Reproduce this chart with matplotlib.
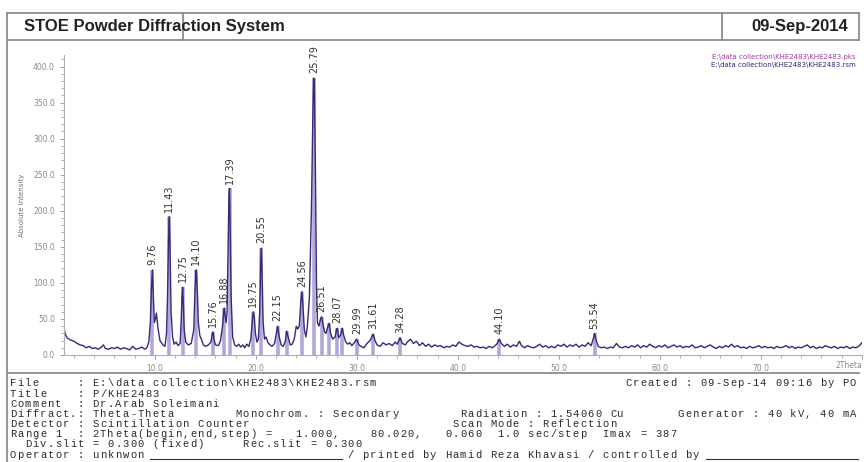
import matplotlib.pyplot as plt
import numpy as np
from matplotlib.lines import Line2D
from matplotlib.ticker import MultipleLocator, FuncFormatter

W, H = 864, 462

profile_2theta = [
    1.0, 1.1, 1.3, 1.6, 2.0, 2.3, 2.6, 2.9, 3.2, 3.5, 3.8, 4.1, 4.4, 4.7, 4.9, 5.1, 5.4, 5.7, 6.0, 6.3,
    6.6, 6.9, 7.2, 7.5, 7.8, 8.1, 8.4, 8.7, 9.0, 9.2, 9.4, 9.55, 9.65, 9.76, 9.85, 9.95, 10.05, 10.15,
    10.3, 10.5, 10.8, 11.0, 11.15, 11.25, 11.35, 11.43, 11.5, 11.6, 11.75, 11.9, 12.1, 12.3, 12.5, 12.6,
    12.68, 12.75, 12.82, 12.9, 13.05, 13.3, 13.6, 13.85, 13.95, 14.05, 14.1, 14.2, 14.3, 14.45, 14.6,
    14.8, 15.0, 15.3, 15.55, 15.7, 15.76, 15.85, 16.0, 16.3, 16.5, 16.7, 16.82, 16.88, 16.95, 17.05,
    17.15, 17.25, 17.33, 17.39, 17.45, 17.55, 17.7, 17.9, 18.1, 18.3, 18.5, 18.7, 18.9, 19.1, 19.3,
    19.5, 19.65, 19.75, 19.85, 19.95, 20.1, 20.25, 20.38, 20.48, 20.55, 20.62, 20.72, 20.85, 21.0,
    21.2, 21.4, 21.6, 21.85, 22.0, 22.15, 22.3, 22.5, 22.7, 22.9, 23.05, 23.2, 23.4, 23.6, 23.8, 24.0,
    24.15, 24.3, 24.45, 24.56, 24.65, 24.8, 24.95, 25.1, 25.3, 25.5, 25.65, 25.72, 25.79, 25.9, 26.0,
    26.1, 26.25, 26.4, 26.51, 26.65, 26.8, 26.95, 27.1, 27.25, 27.4, 27.6, 27.85, 28.0, 28.07, 28.2,
    28.4, 28.55, 28.7, 28.9, 29.1, 29.3, 29.5, 29.8, 29.99, 30.2, 30.4, 30.7, 31.0, 31.3, 31.5, 31.61,
    31.8, 32.0, 32.3, 32.6, 32.9, 33.2, 33.5, 33.8, 34.0, 34.28, 34.5, 34.8, 35.0, 35.3, 35.6, 35.9,
    36.2, 36.5, 36.8, 37.1, 37.4, 37.7, 38.0, 38.3, 38.6, 38.9, 39.2, 39.5, 39.8, 40.1, 40.4, 40.7,
    41.0, 41.3, 41.6, 41.9, 42.2, 42.5, 42.8, 43.1, 43.4, 43.7, 43.9, 44.1, 44.3, 44.6, 44.9, 45.2,
    45.5, 45.8, 46.1, 46.3, 46.6, 46.9, 47.2, 47.5, 47.8, 48.1, 48.4, 48.7, 49.0, 49.3, 49.6, 49.9,
    50.2, 50.5, 50.8, 51.1, 51.4, 51.7, 52.0, 52.3, 52.6, 52.9, 53.2, 53.4, 53.54, 53.7, 53.9, 54.2,
    54.5, 54.8, 55.1, 55.4, 55.7, 56.0, 56.3, 56.6, 56.9, 57.2, 57.5, 57.8, 58.1, 58.4, 58.7, 59.0,
    59.3, 59.6, 59.9, 60.2, 60.5, 60.8, 61.1, 61.4, 61.7, 62.0, 62.3, 62.6, 62.9, 63.2, 63.5, 63.8,
    64.1, 64.4, 64.7, 65.0, 65.3, 65.6, 65.9, 66.2, 66.5, 66.8, 67.1, 67.4, 67.7, 68.0, 68.3, 68.6,
    68.9, 69.2, 69.5, 69.8, 70.1, 70.4, 70.7, 71.0, 71.3, 71.6, 71.9, 72.2, 72.5, 72.8, 73.1, 73.4,
    73.7, 74.0, 74.3, 74.6, 74.9, 75.2, 75.5, 75.8, 76.1, 76.4, 76.7, 77.0, 77.3, 77.6, 77.9, 78.2,
    78.5, 78.8, 79.1, 79.4, 79.7, 80.02,
]
profile_counts = [
    38, 30, 24, 21, 19, 16, 14, 13, 10, 12, 9, 10, 8, 11, 14, 9, 8, 10, 9, 11,
    8, 10, 9, 7, 12, 8, 9, 11, 8, 10, 18, 45, 90, 118, 80, 45, 50, 58,
    38, 20, 14, 12, 30, 80, 160, 192, 150, 60, 25, 15, 18, 13, 16, 45,
    80, 94, 70, 35, 18, 14, 16, 35, 80, 112, 118, 90, 45, 27, 22,
    14, 12, 14, 18, 30, 32, 22, 14, 13, 20, 40, 60, 65, 55, 45,
    60, 150, 220, 231, 180, 80, 25, 14, 12, 15, 11, 14, 10, 15, 12,
    22, 48, 60, 52, 30, 18, 22, 60, 130, 148, 110, 45, 22, 25,
    17, 14, 12, 16, 28, 40, 26, 14, 12, 18, 33, 25, 14, 15, 22, 40,
    36, 40, 75, 88, 70, 35, 25, 40, 80, 200, 340, 384, 380, 250, 100,
    45, 40, 50, 53, 42, 32, 30, 38, 44, 30, 22, 25, 36, 37, 24,
    28, 37, 27, 18, 15, 17, 13, 18, 22, 14, 12, 10, 16, 20, 26, 29,
    20, 14, 12, 17, 14, 16, 13, 18, 15, 24, 16, 14, 18, 22, 16, 19,
    13, 17, 12, 15, 11, 14, 12, 13, 10, 12, 11, 14, 12, 18, 15, 13,
    12, 14, 11, 12, 10, 11, 9, 12, 10, 13, 16, 22, 16, 12, 15, 11,
    14, 12, 19, 13, 10, 13, 11, 10, 12, 15, 11, 13, 10, 12, 10, 14,
    12, 15, 11, 14, 12, 15, 11, 14, 12, 17, 13, 22, 30, 20, 12, 10,
    11, 9, 11, 10, 16, 11, 10, 12, 10, 13, 11, 14, 10, 13, 11, 15,
    12, 10, 13, 11, 14, 10, 12, 14, 11, 13, 10, 12, 11, 14, 10, 11,
    13, 10, 12, 14, 11, 9, 12, 10, 13, 11, 15, 11, 13, 10, 11, 9,
    12, 10, 11, 13, 10, 12, 10, 11, 9, 12, 10, 11, 13, 10, 12, 9,
    11, 10, 12, 14, 10, 12, 9, 11, 10, 13, 11, 10, 12, 9, 11, 10,
    12, 9, 11, 10, 12, 17,
]

# peak list (.pks)
peak_pos = [9.76, 11.43, 12.75, 14.10, 15.76, 16.88, 17.39, 19.75, 20.55, 22.15, 23.05,
            24.56, 25.79, 26.51, 27.25, 28.07, 28.55, 29.99, 31.61, 34.28, 44.10, 53.54]
peak_int = [118, 192, 94, 118, 32, 65, 231, 60, 148, 40, 33,
            88, 384, 53, 44, 37, 37, 22, 29, 24, 22, 30]
peak_labels = ["9.76", "11.43", "12.75", "14.10", "15.76", "16.88", "17.39", "19.75", "20.55",
               "22.15", "", "24.56", "25.79", "26.51", "", "28.07", "", "29.99", "31.61",
               "34.28", "44.10", "53.54"]

header_left = "STOE Powder Diffraction System"
header_right = "09-Sep-2014"
file_pks = "E:\\data collection\\KHE2483\\KHE2483.pks"
file_rsm = "E:\\data collection\\KHE2483\\KHE2483.rsm"

# info block: (column, text) pieces of each printed line
info_rows = [
    [(0, "File     : E:\\data collection\\KHE2483\\KHE2483.rsm"), (82, "Created : 09-Sep-14 09:16 by PO")],
    [(0, "Title    : P/KHE2483")],
    [(0, "Comment  : Dr.Arab Soleimani")],
    [(0, "Diffract.: Theta-Theta"), (30, "Monochrom. : Secondary"), (60, "Radiation : 1.54060 Cu"),
     (89, "Generator : 40 kV, 40 mA")],
    [(0, "Detector : Scintillation Counter"), (59, "Scan Mode : Reflection")],
    [(0, "Range 1  : 2Theta(begin,end,step) ="), (38, "1.000,"), (48, "80.020,"), (58, "0.060"),
     (65, "1.0 sec/step"), (79, "Imax = 387")],
    [(2, "Div.slit = 0.300 (fixed)"), (31, "Rec.slit = 0.300")],
    [(0, "Operator : unknwon"), (45, "/ printed by Hamid Reza Khavasi / controlled by")],
]
info_y = [383, 394, 404, 414, 424, 434, 444, 455]
CHAR_W = 7.5


def fx(x):
    return x / W


def fy(y):
    return 1 - y / H


fig = plt.figure(figsize=(W / 100, H / 100), dpi=100)
fig.patch.set_facecolor("white")

frame = "#8c8c8c"
for x0, y0, x1, y1 in [(7, 13, 859, 13), (7, 40, 859, 40), (7, 13, 7, 462), (859, 13, 859, 40),
                       (183, 13, 183, 40), (722, 13, 722, 40), (7, 373, 859, 373)]:
    fig.add_artist(Line2D([fx(x0), fx(x1)], [fy(y0), fy(y1)], color=frame, lw=1.3))

fig.text(fx(24), fy(27), header_left, fontsize=12, fontweight="bold", family="Liberation Sans",
         va="center", color="#222222")
fig.text(fx(751), fy(27), header_right, fontsize=12, fontweight="bold", family="Liberation Sans",
         va="center", color="#222222")

ax = fig.add_axes([fx(64), fy(355), (862 - 64) / W, 300 / H])
ax.set_xlim(1.0, 80.02)
ax.set_ylim(0, 416)

ax.vlines(peak_pos, 0, peak_int, color="#b3a6d9", lw=2.6, zorder=1)
ax.plot(profile_2theta, profile_counts, color="#34297a", lw=1.0, zorder=2)

for p, h, lab in zip(peak_pos, peak_int, peak_labels):
    if lab:
        ax.annotate(lab, (p, h), xytext=(0, 3.5), textcoords="offset points", rotation=90,
                    ha="center", va="bottom", fontsize=7, color="#333333")

for s in ["top", "right"]:
    ax.spines[s].set_visible(False)
for s in ["left", "bottom"]:
    ax.spines[s].set_color("#b0b0b0")
    ax.spines[s].set_linewidth(0.8)

ax.yaxis.set_major_locator(MultipleLocator(50))
ax.yaxis.set_minor_locator(MultipleLocator(10))
ax.yaxis.set_major_formatter(FuncFormatter(lambda v, _: f"{v:.1f}"))
ax.xaxis.set_major_locator(MultipleLocator(10))
ax.xaxis.set_minor_locator(MultipleLocator(2))
ax.xaxis.set_major_formatter(FuncFormatter(lambda v, _: f"{v:.1f}" if 5 < v < 75 else ""))
ax.tick_params(which="both", colors="#a0a0a0", labelcolor="#8a8a8a", labelsize=5.5, direction="out")
ax.tick_params(which="major", length=3, width=0.7)
ax.tick_params(which="minor", length=2, width=0.6)
ax.set_ylabel("Absolute Intensity", fontsize=5, color="#707070", labelpad=6)
ax.text(80.0, -9, "2Theta", transform=ax.transData, ha="right", va="top", fontsize=5.5,
        color="#8a8a8a", clip_on=False)

fig.text(fx(856), fy(57), file_pks, ha="right", va="center", fontsize=5, color="#a03c9c")
fig.text(fx(856), fy(65), file_rsm, ha="right", va="center", fontsize=5, color="#2e2a72")

# printer output uses a wider pitch than the font: put each character on its column
for row, y in zip(info_rows, info_y):
    for col, s in row:
        for i, ch in enumerate(s):
            if ch == " ":
                continue
            x = 10 + (col + i) * CHAR_W
            fig.text(fx(x), fy(y), ch, fontsize=7.6, family="Liberation Mono",
                     va="center", color="#2a2a2a")

# signature lines on the operator row
for x0, x1 in [(150, 342), (706, 858)]:
    fig.add_artist(Line2D([fx(x0), fx(x1)], [fy(459), fy(459)], color="#333333", lw=0.8))

fig.savefig("out.png", dpi=100)
